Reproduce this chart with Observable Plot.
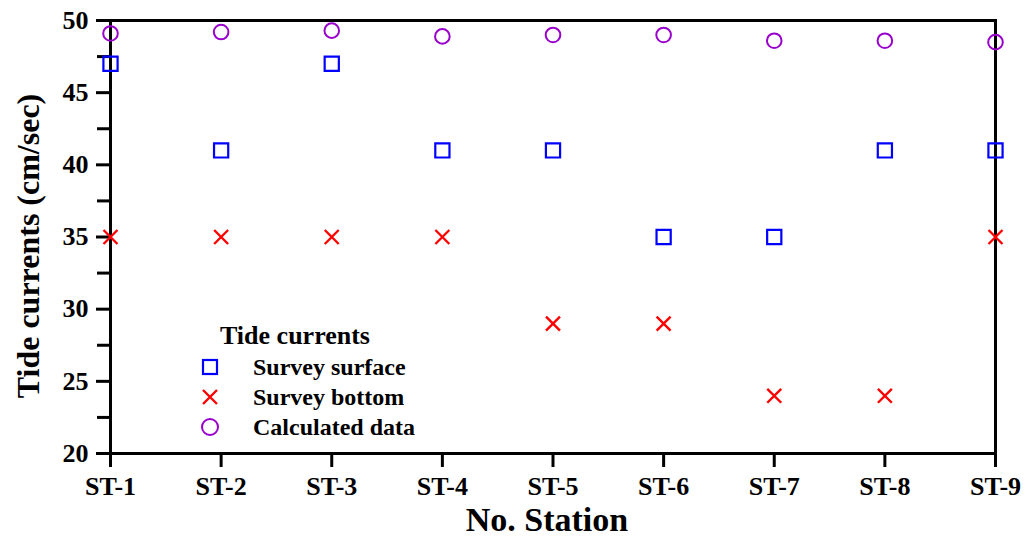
<!DOCTYPE html>
<html>
<head>
<meta charset="utf-8">
<script src="https://cdn.jsdelivr.net/npm/d3@7"></script>
<script src="https://cdn.jsdelivr.net/npm/@observablehq/plot@0.6"></script>
<style>
  html, body { margin: 0; padding: 0; background: #fff; }
  #wrap { position: relative; width: 1029px; height: 542px; font-family: "Liberation Serif", "Times New Roman", serif; font-weight: bold; color: #000; }
  #wrap svg.plot { position: absolute; left: 0; top: 0; }
  .ytitle { position: absolute; left: 28px; top: 246px; transform: translate(-50%, -50%) rotate(-90deg); font-size: 32px; white-space: nowrap; }
  .xtitle { position: absolute; left: 547px; top: 520px; transform: translate(-50%, -50%); font-size: 34px; white-space: nowrap; }
  .legend { position: absolute; left: 196px; top: 322px; }
  .legend .lt { position: absolute; left: 24px; top: 0; font-size: 26px; white-space: nowrap; line-height: 28px; }
  .legend .row { position: absolute; left: 0; height: 30px; white-space: nowrap; }
  .legend .row svg { position: absolute; left: 0; top: 0; }
  .legend .row span { position: absolute; left: 57px; top: 0; font-size: 24px; line-height: 30px; }
</style>
</head>
<body>
<div id="wrap"></div>
<script>
const stations = ["ST-1","ST-2","ST-3","ST-4","ST-5","ST-6","ST-7","ST-8","ST-9"];
const surface = [47, 41, 47, 41, 41, 35, 35, 41, 41];
const bottom = [35, 35, 35, 35, 29, 29, 24, 24, 35];
const calculated = [49.1, 49.2, 49.3, 48.9, 49.0, 49.0, 48.6, 48.6, 48.5];
const yTicks = [20, 25, 30, 35, 40, 45, 50];
const yMinor = [22.5, 27.5, 32.5, 37.5, 42.5, 47.5];
const seriesNames = ["Survey surface", "Survey bottom", "Calculated data"];
const legendTitle = "Tide currents";
const yLabel = "Tide currents (cm/sec)";
const xLabel = "No. Station";

const colors = { surface: "#0000ff", bottom: "#ff0000", calc: "#9900cc" };

const rows = (vals) => stations.map((s, i) => ({ station: s, value: vals[i] }));

const chart = Plot.plot({
  width: 1029,
  height: 542,
  marginLeft: 110,
  marginRight: 34,
  marginTop: 20,
  marginBottom: 89,
  style: { fontFamily: "'Liberation Serif', 'Times New Roman', serif", fontWeight: "bold", fontSize: "26px", color: "#000", background: "transparent", overflow: "visible" },
  x: { type: "point", domain: stations, padding: 0, round: false },
  y: { domain: [20, 50] },
  marks: [
    Plot.axisX({ tickSize: 14, tickPadding: 9, strokeWidth: 3, label: null, fontSize: 26 }),
    Plot.axisY(yTicks, { tickSize: 14, tickPadding: 8, strokeWidth: 3, label: null, fontSize: 26 }),
    Plot.axisY(yMinor, { tickSize: 13, strokeWidth: 3, label: null, tickFormat: () => "" }),
    Plot.frame({ stroke: "#000", strokeWidth: 3 }),
    Plot.dot(rows(calculated), { x: "station", y: "value", symbol: "circle", r: 7.3, stroke: colors.calc, strokeWidth: 2, fill: "none" }),
    Plot.dot(rows(surface), { x: "station", y: "value", symbol: "square", r: 8, stroke: colors.surface, strokeWidth: 2.2, fill: "none" }),
    Plot.dot(rows(bottom), { x: "station", y: "value", symbol: "times", r: 6.4, stroke: colors.bottom, strokeWidth: 2.4, fill: "none" })
  ]
});
chart.classList.add("plot");

const wrap = document.getElementById("wrap");
wrap.appendChild(chart);

const yt = document.createElement("div"); yt.className = "ytitle"; yt.textContent = yLabel; wrap.appendChild(yt);
const xt = document.createElement("div"); xt.className = "xtitle"; xt.textContent = xLabel; wrap.appendChild(xt);

const lg = document.createElement("div"); lg.className = "legend";
const lt = document.createElement("div"); lt.className = "lt"; lt.textContent = legendTitle; lg.appendChild(lt);
const syms = [
  `<rect x="7" y="8" width="14" height="14" fill="none" stroke="${colors.surface}" stroke-width="2.2"/>`,
  `<path d="M7 8 L21 22 M21 8 L7 22" fill="none" stroke="${colors.bottom}" stroke-width="2.4"/>`,
  `<circle cx="14" cy="15" r="8" fill="none" stroke="${colors.calc}" stroke-width="2"/>`
];
seriesNames.forEach((name, i) => {
  const r = document.createElement("div"); r.className = "row"; r.style.top = (30 + i * 30) + "px";
  r.innerHTML = `<svg width="30" height="30">${syms[i]}</svg><span>${name}</span>`;
  lg.appendChild(r);
});
wrap.appendChild(lg);
</script>
</body>
</html>
